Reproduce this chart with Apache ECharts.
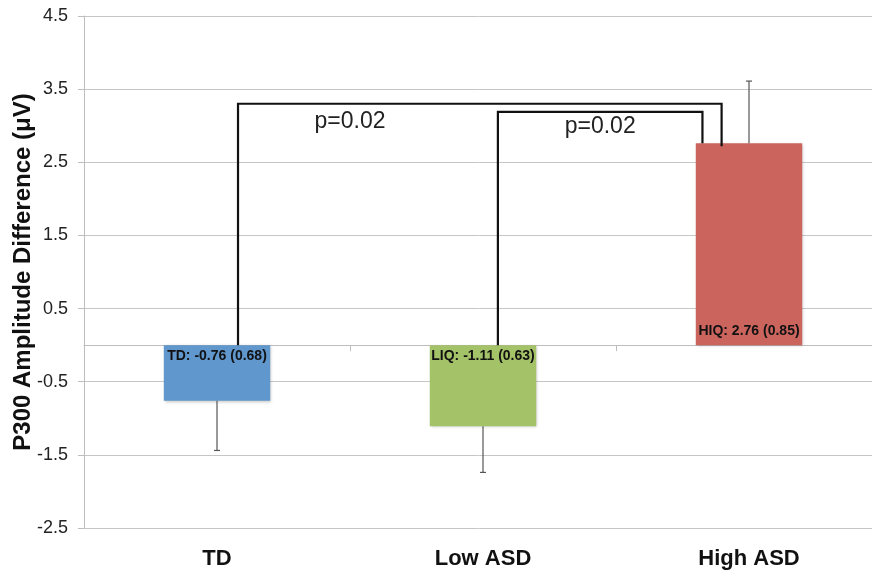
<!DOCTYPE html>
<html><head><meta charset="utf-8">
<script src="https://cdn.jsdelivr.net/npm/echarts@6/dist/echarts.min.js"></script>
<style>html,body{margin:0;padding:0;background:#fff;overflow:hidden}#c{width:872px;height:573px}</style>
</head><body><div id="c"></div>
<script>
// ---- data ----
const categories = ['TD', 'Low ASD', 'High ASD'];
const means = [-0.76, -1.11, 2.76];
const sds = [0.68, 0.63, 0.85];
const barLabels = ['TD: -0.76 (0.68)', 'LIQ: -1.11 (0.63)', 'HIQ: 2.76 (0.85)'];
const barColors = ['#6097CD', '#A4C267', '#CC645E'];
const yMin = -2.5, yMax = 4.5, yStep = 1;
// significance brackets: from category, to category, top level, right-end level
const bracketFrom = [0, 1];
const bracketTo = [2, 2];
const bracketTop = [3.30, 3.19];
const bracketEnd = [2.72, 2.76];
const pLabels = ['p=0.02', 'p=0.02'];

// ---- layout (pixels / band fractions) ----
const FONT = '"Liberation Sans", Arial, sans-serif';
const bracketLayout = [
  { l: 0.079, r: -0.103, tx: 0.50, ty: 18 },
  { l: 0.056, r: -0.175, tx: null, ty: 15 }
];

const chart = echarts.init(document.getElementById('c'), null, { renderer: 'canvas' });

const barData = means.map((v, i) => ({
  value: v,
  itemStyle: { color: barColors[i] },
  label: {
    show: true,
    formatter: barLabels[i],
    position: v < 0 ? 'insideTop' : 'insideBottom',
    distance: v < 0 ? 4 : 7
  }
}));

const errData = means.map((v, i) => [i, v, sds[i]]);
const bracketData = bracketFrom.map((f, i) => [f, bracketTo[i], bracketTop[i], bracketEnd[i]]);

chart.setOption({
  animation: false,
  backgroundColor: '#ffffff',
  textStyle: { fontFamily: FONT },
  grid: { left: 84, width: 798, top: 16, bottom: 45, containLabel: false, outerBoundsMode: 'none' },
  xAxis: [
    {
      type: 'category', data: categories, position: 'bottom',
      axisLine: { show: true, onZero: true, lineStyle: { color: '#bdbdbd', width: 1 } },
      axisTick: { show: true, length: 6, lineStyle: { color: '#bdbdbd' } },
      axisLabel: { show: false },
      splitLine: { show: false }
    },
    {
      type: 'category', data: categories, position: 'bottom',
      axisLine: { show: false, onZero: false },
      axisTick: { show: false },
      axisLabel: { show: true, margin: 20, fontSize: 22, fontWeight: 'bold', color: '#111', fontFamily: FONT },
      splitLine: { show: false }
    }
  ],
  yAxis: {
    type: 'value', min: yMin, max: yMax, interval: yStep,
    name: 'P300 Amplitude Difference (\u03bcV)',
    nameLocation: 'middle', nameGap: 49, nameMoveOverlap: false,
    nameTextStyle: { fontSize: 24, fontWeight: 'bold', color: '#111', fontFamily: FONT },
    axisLine: { show: true, lineStyle: { color: '#bdbdbd', width: 1 } },
    axisTick: { show: true, length: 6, lineStyle: { color: '#bdbdbd' } },
    axisLabel: { fontSize: 18, color: '#222', margin: 16, fontFamily: FONT },
    splitLine: { show: true, lineStyle: { color: '#c6c6c6', width: 1 } }
  },
  series: [
    {
      type: 'bar', xAxisIndex: 0, data: barData, barWidth: '40%',
      itemStyle: { shadowBlur: 3, shadowOffsetX: 1, shadowOffsetY: 1, shadowColor: 'rgba(0,0,0,0.25)' },
      label: { fontSize: 14, fontWeight: 'bold', color: '#111', fontFamily: FONT },
      z: 2
    },
    {
      type: 'custom', xAxisIndex: 0, data: errData, z: 3,
      encode: { x: 0, y: [1, 2] },
      renderItem: function (params, api) {
        const i = api.value(0), m = api.value(1), s = api.value(2);
        const end = m < 0 ? m - s : m + s;
        const p1 = api.coord([i, m]);
        const p2 = api.coord([i, end]);
        return {
          type: 'group',
          children: [
            { type: 'line', shape: { x1: p1[0], y1: p1[1], x2: p2[0], y2: p2[1] }, style: { stroke: '#555', lineWidth: 1.2 } },
            { type: 'line', shape: { x1: p2[0] - 3, y1: p2[1], x2: p2[0] + 3, y2: p2[1] }, style: { stroke: '#555', lineWidth: 1.2 } }
          ]
        };
      }
    },
    {
      type: 'custom', xAxisIndex: 0, data: bracketData, z: 4,
      encode: { x: [0, 1], y: [2, 3] },
      renderItem: function (params, api) {
        const k = params.dataIndex;
        const L = bracketLayout[k];
        const from = api.value(0), to = api.value(1), top = api.value(2), end = api.value(3);
        const band = api.size([1, 0])[0];
        const base = api.coord([from, 0]);
        const xL = base[0] + L.l * band;
        const xR = api.coord([to, 0])[0] + L.r * band;
        const yTop = api.coord([from, top])[1];
        const yEnd = api.coord([to, end])[1];
        const tx = L.tx === null ? (xL + xR) / 2 : base[0] + L.tx * band;
        return {
          type: 'group',
          children: [
            { type: 'polyline', shape: { points: [[xL, base[1]], [xL, yTop], [xR, yTop], [xR, yEnd]] },
              style: { stroke: '#111', lineWidth: 2.2, fill: null } },
            { type: 'text', x: tx, y: yTop + L.ty,
              style: { text: pLabels[k], fontSize: 23, fontFamily: FONT, fill: '#222', align: 'center', verticalAlign: 'middle' } }
          ]
        };
      }
    }
  ]
});
</script>
</body></html>
